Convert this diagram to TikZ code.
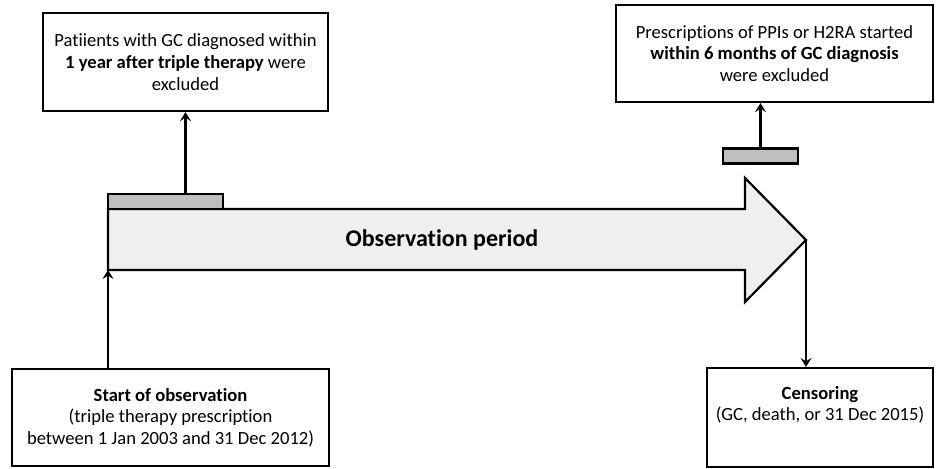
\documentclass[tikz,border=0pt]{standalone}
\usepackage{fontspec}
\setmainfont{Carlito}[Ligatures={NoCommon}]
\usetikzlibrary{arrows.meta}
\definecolor{bodyfill}{HTML}{EFEFEF}
\definecolor{barfill}{HTML}{BFBFBF}
\begin{document}
\begin{tikzpicture}[x=1pt,y=-1pt,
  box/.style={draw,line width=2.2pt,align=center,font=\fontsize{18.6}{21.7}\selectfont,inner sep=0pt},
  bar/.style={draw,line width=2.2pt,fill=barfill,inner sep=0pt},
  arr/.style={line width=2.2pt,-{Stealth[length=9pt,width=11pt,inset=3.5pt]}}]
\useasboundingbox (0,0) rectangle (941,468);
% big arrow
\coordinate (bl) at (108,270);
\coordinate (tl) at (108,209);
\coordinate (tip) at (806,240);
\draw[line width=2.2pt,fill=bodyfill,line join=miter]
  (tl) -- (745,209) -- (745,178) -- (tip) -- (745,302) -- (745,270) -- (bl) -- cycle;
\node[font=\fontsize{24}{28}\selectfont\bfseries] (obs) at (442,240) {Observation period};
% bars
\node[bar,minimum width=115pt,minimum height=15pt] (bar1) at (165.5,201.5) {};
\node[bar,minimum width=75pt,minimum height=15pt] (bar2) at (760.5,156) {};
% boxes
\node[box,minimum width=285pt,minimum height=98pt] (box1) at (185.5,62)
  {Patiients with GC diagnosed within\\\textbf{1 year after triple therapy} were\\excluded};
\node[box,minimum width=317pt,minimum height=97pt] (box2) at (774.5,53.5)
  {Prescriptions of PPIs or H2RA started\\\textbf{within 6 months of GC diagnosis}\\were excluded};
\node[box,minimum width=317pt,minimum height=97pt] (box3) at (170.5,417.5)
  {\textbf{Start of observation}\\(triple therapy prescription\\between 1 Jan 2003 and 31 Dec 2012)};
\node[box,minimum width=226pt,minimum height=99pt] (box4) at (820,417.5)
  {\textbf{Censoring}\\(GC, death, or 31 Dec 2015)\\\strut};
% connectors
\draw[arr] (box1.south |- bar1.north) -- (box1.south);
\draw[arr] (bar2.north) -- (bar2.north |- box2.south);
\draw[arr] (box3.north -| bl) -- (bl);
\draw[arr] (tip) -- (box4.north -| tip);
\end{tikzpicture}
\end{document}
